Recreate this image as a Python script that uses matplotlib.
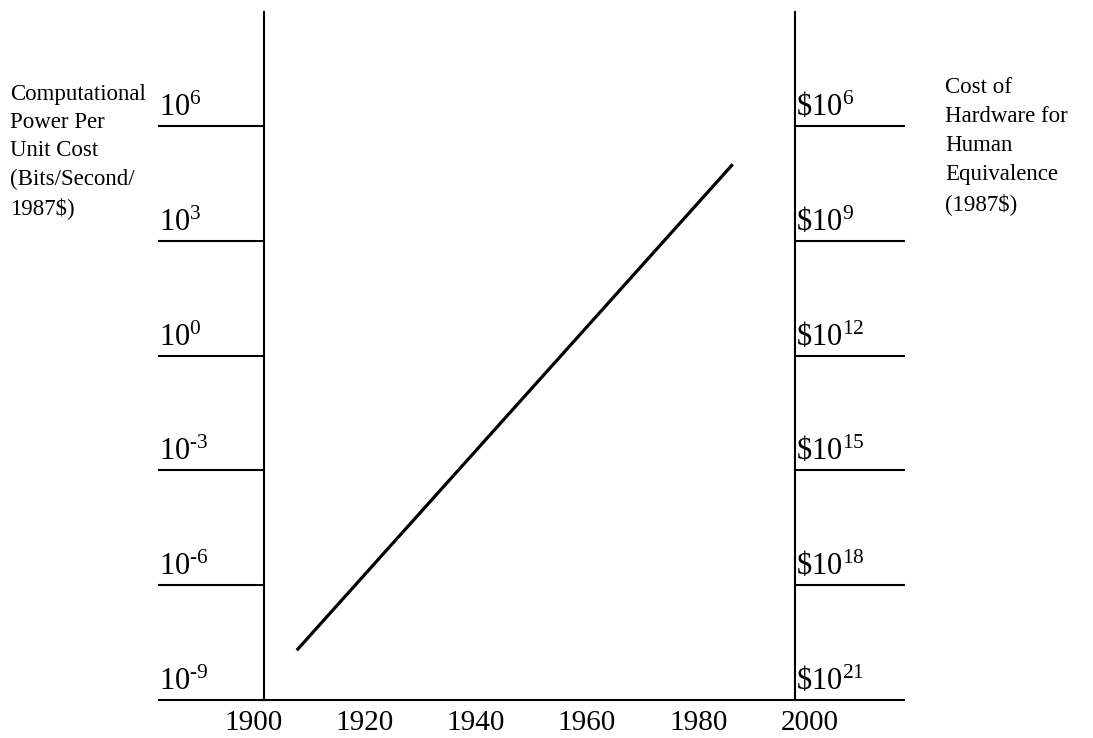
import numpy as np
import matplotlib
matplotlib.use("Agg")
import matplotlib.pyplot as plt

plt.rcParams['font.family'] = ['Liberation Serif', 'DejaVu Serif']
plt.rcParams['mathtext.fontset'] = 'custom'
plt.rcParams['mathtext.rm'] = 'Liberation Serif'
plt.rcParams['mathtext.it'] = 'Liberation Serif:italic'

# trend line: computational power per unit cost over time
years = [1907.8, 1986.2]
power = [10**-7.7, 10**5.0]

year_labels = [1900, 1920, 1940, 1960, 1980, 2000]
power_exp = [6, 3, 0, -3, -6, -9]
cost_exp = [6, 9, 12, 15, 18, 21]

left_title = "Computational\nPower Per\nUnit Cost\n(Bits/Second/\n1987$)"
right_title = "Cost of\nHardware for\nHuman\nEquivalence\n(1987$)"


def sup(e):
    # short hyphen for negative exponents, like a typeset label
    s = str(abs(e))
    if e < 0:
        s = r'\text{-}' + s
    return r'$\mathregular{10^{%s}}$' % s


fig = plt.figure(figsize=(10.93, 7.38), dpi=100)
ax = fig.add_axes([264/1093, 1-700/738, 531/1093, 688/738])
ax.set_yscale('log')
ax.set_xlim(1901.9, 1997.4)
ax.set_ylim(1e-9, 10**8.98)

ax.plot(years, power, color='black', lw=2.3, solid_capstyle='butt')

for s in ['top', 'right']:
    ax.spines[s].set_visible(False)
for s in ['left', 'bottom']:
    ax.spines[s].set_linewidth(1.5)

ax.set_yticks([10.0**e for e in power_exp])
ax.set_yticklabels([])
ax.yaxis.set_minor_locator(matplotlib.ticker.NullLocator())
ax.tick_params(axis='y', which='major', direction='out', length=76, width=1.5, left=True)
ax.set_xticks([])

# power labels sit above the tick lines
ytr = ax.get_yaxis_transform()
for e in power_exp:
    ax.text(-0.197, 10.0**e * 1.2, sup(e), transform=ytr,
            ha='left', va='bottom', fontsize=22, clip_on=False)

xtr = ax.get_xaxis_transform()
for yr in year_labels:
    ax.text(yr, -0.014, str(yr), transform=xtr, ha='center', va='top',
            fontsize=21, clip_on=False)

# right axis: cost of human-equivalent hardware (inverted)
ax2 = ax.twinx()
ax2.set_position(ax.get_position())
ax2.set_yscale('log')
ax2.set_ylim(1e21, 10**3.02)
for s in ['top', 'left', 'bottom']:
    ax2.spines[s].set_visible(False)
ax2.spines['right'].set_linewidth(1.5)
ax2.set_yticks([10.0**e for e in cost_exp])
ax2.set_yticklabels([])
ax2.yaxis.set_minor_locator(matplotlib.ticker.NullLocator())
ax2.tick_params(axis='y', which='major', direction='out', length=79, width=1.5, right=True)

ytr2 = ax2.get_yaxis_transform()
for e in cost_exp:
    ax2.text(1.002, 10.0**e / 1.2, r'\$' + sup(e), transform=ytr2,
             ha='left', va='bottom', fontsize=22, clip_on=False)

fig.text(10/1093, 1-84/738, left_title, ha='left', va='top', fontsize=16.5, linespacing=1.45)
fig.text(945/1093, 1-77/738, right_title, ha='left', va='top', fontsize=16.5, linespacing=1.5)

fig.savefig('out.png', dpi=100)
